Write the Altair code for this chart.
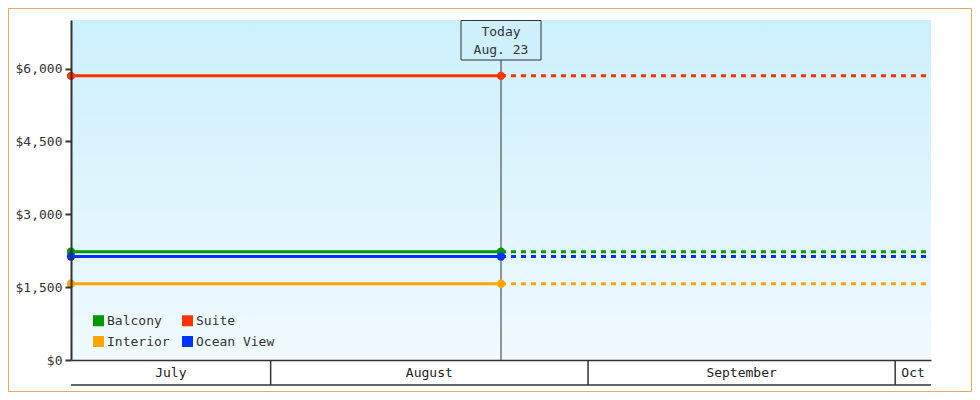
import altair as alt
import pandas as pd

# ---- data ----
series = ["Balcony", "Suite", "Interior", "Ocean View"]
prices = [2230, 5850, 1570, 2130]
colors = ["#009900", "#ff3300", "#ffa500", "#0033ff"]

start_date = "2024-07-12T12:00:00"
today_date = "2024-08-23T12:00:00"
end_date = "2024-10-04T12:00:00"
today_label = ["Today", "Aug. 23"]

month_starts = ["2024-08-01T00:00:00", "2024-09-01T00:00:00", "2024-10-01T00:00:00"]
month_labels = ["July", "August", "September", "Oct"]

y_ticks = [0, 1500, 3000, 4500, 6000]
y_max = 7000

FONT = "DejaVu Sans Mono"
W, H = 860, 340
PAD = {"left": 63, "top": 12, "right": 41, "bottom": 32}

# ---- tables ----
solid = pd.DataFrame(
    [{"series": s, "date": d, "price": p} for s, p in zip(series, prices) for d in (start_date, today_date)]
)
dashed = pd.DataFrame(
    [{"series": s, "date": d, "price": p} for s, p in zip(series, prices) for d in (today_date, end_date)]
)
pts = solid.copy()

edges = [pd.Timestamp(start_date)] + [pd.Timestamp(m) for m in month_starts] + [pd.Timestamp(end_date)]
mids = [edges[i] + (edges[i + 1] - edges[i]) / 2 for i in range(len(month_labels))]
month_df = pd.DataFrame({"label": month_labels, "mid": [m.isoformat() for m in mids]})
bound_df = pd.DataFrame({"date": month_starts})
frame_df = pd.DataFrame({"start": [start_date], "end": [end_date], "y0": [0], "y1": [y_max]})
today_df = pd.DataFrame({"date": [today_date]})

xscale = alt.Scale(domain=[start_date, end_date])
yscale = alt.Scale(domain=[0, y_max], nice=False)
color_scale = alt.Scale(domain=series, range=colors)

legend = alt.Legend(orient="none", legendX=21, legendY=294, padding=0, columns=2,
                    direction="horizontal",
                    title=None, symbolType="square", symbolSize=121, symbolStrokeWidth=0,
                    labelFont=FONT, labelFontSize=13, labelColor="#333333", labelOffset=2,
                    rowPadding=7, columnPadding=11, zindex=3)

x_enc = alt.X("date:T", scale=xscale,
              axis=alt.Axis(labels=False, ticks=False, grid=False, title=None, zindex=2,
                            domainColor="#333333", domainWidth=1.5))
y_enc = alt.Y("price:Q", scale=yscale,
              axis=alt.Axis(values=y_ticks, format="$,.0f", title=None, grid=False, zindex=2,
                            domainColor="#333333", domainWidth=2, tickColor="#333333",
                            tickWidth=2, tickSize=6, labelPadding=3,
                            labelFont=FONT, labelFontSize=13, labelColor="#333333"))

bg = alt.Chart(frame_df).mark_rect(
    color=alt.LinearGradient(gradient="linear", x1=0, x2=0, y1=0, y2=1,
                             stops=[alt.GradientStop(color="#ccf0fc", offset=0),
                                    alt.GradientStop(color="#f0fafe", offset=1)])
).encode(x=alt.X("start:T", scale=xscale), x2="end:T",
         y=alt.Y("y0:Q", scale=yscale), y2="y1:Q")

today_rule = alt.Chart(today_df).mark_rule(color="#333333", strokeWidth=1).encode(
    x=alt.X("date:T", scale=xscale), y=alt.value(40), y2=alt.value(H))

today_box = alt.Chart(today_df).mark_rect(
    fill="#cdf0fc", stroke="#333333", strokeWidth=1, xOffset=-40, x2Offset=40
).encode(x=alt.X("date:T", scale=xscale), x2="date:T", y=alt.value(0.5), y2=alt.value(40))

today_text = alt.Chart(today_df).mark_text(
    text=today_label, font=FONT, fontSize=13, color="#333333",
    baseline="middle", align="center", lineHeight=18
).encode(x=alt.X("date:T", scale=xscale), y=alt.value(12))

points = alt.Chart(pts).mark_circle(size=70, opacity=1).encode(
    x=alt.X("date:T", scale=xscale), y=alt.Y("price:Q", scale=yscale),
    color=alt.Color("series:N", scale=color_scale, legend=legend))

lines = alt.Chart(solid).mark_line(strokeWidth=3).encode(
    x=x_enc, y=y_enc,
    color=alt.Color("series:N", scale=color_scale, legend=legend))

dash_lines = alt.Chart(dashed).mark_line(strokeWidth=3, strokeDash=[5, 5]).encode(
    x=alt.X("date:T", scale=xscale), y=alt.Y("price:Q", scale=yscale),
    color=alt.Color("series:N", scale=color_scale, legend=legend))

sep = alt.Chart(bound_df).mark_rule(color="#333333", strokeWidth=1.5).encode(
    x=alt.X("date:T", scale=xscale), y=alt.value(H), y2=alt.value(H + 25))

band_bottom = alt.Chart(frame_df).mark_rule(color="#333333", strokeWidth=1.5).encode(
    x=alt.X("start:T", scale=xscale), x2="end:T", y=alt.value(H + 25))

month_text = alt.Chart(month_df).mark_text(
    font=FONT, fontSize=13, color="#222222", baseline="middle", align="center"
).encode(x=alt.X("mid:T", scale=xscale), y=alt.value(H + 13), text="label:N")

border = alt.Chart(frame_df).mark_rect(
    filled=False, stroke="#eaa860", strokeWidth=1
).encode(x=alt.value(-PAD["left"] + 0.5), x2=alt.value(W + PAD["right"] - 0.5),
         y=alt.value(-PAD["top"] + 0.5), y2=alt.value(H + PAD["bottom"] - 0.5))

chart = alt.layer(
    bg, today_rule, today_box, today_text, lines, dash_lines, points,
    sep, band_bottom, month_text, border
).properties(
    width=W, height=H,
    autosize=alt.AutoSizeParams(type="none"),
    padding=PAD,
    background="white",
).configure_view(stroke=None)

chart.save("out.html", embed_options={"renderer": "svg", "actions": False})
